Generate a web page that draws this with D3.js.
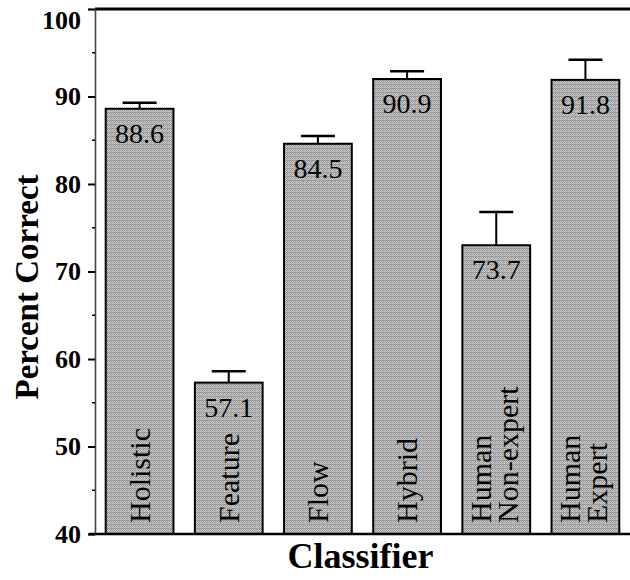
<!DOCTYPE html>
<html>
<head>
<meta charset="utf-8">
<script src="https://cdn.jsdelivr.net/npm/d3@7"></script>
<style>
  body { margin: 0; background: #fff; }
  svg { display: block; }
  .tick-label { font-family: "Liberation Serif", "DejaVu Serif", serif; font-weight: bold; font-size: 26px; }
  .title { font-family: "Liberation Serif", "DejaVu Serif", serif; font-weight: bold; font-size: 33px; }
  .value { font-family: "Liberation Serif", "DejaVu Serif", serif; font-size: 28px; }
  .cat { font-family: "Liberation Serif", "DejaVu Serif", serif; font-size: 30px; }
</style>
</head>
<body>
<div id="chart"></div>
<script>
// bar data
const classifiers = ['Holistic', 'Feature', 'Flow', 'Hybrid', 'Human Non-expert', 'Human Expert'];
const classifierLines = [['Holistic'], ['Feature'], ['Flow'], ['Hybrid'], ['Human', 'Non-expert'], ['Human', 'Expert']];
const barHeights = [88.6, 57.3, 84.6, 92.0, 73.0, 91.9];
const errorTops = [89.3, 58.6, 85.5, 92.9, 76.8, 94.2];
const valueLabels = ['88.6', '57.1', '84.5', '90.9', '73.7', '91.8'];
const yTicks = [40, 50, 60, 70, 80, 90, 100];
const yMinorTicks = [45, 55, 65, 75, 85, 95];

const width = 630, height = 580;
const margin = { top: 9, right: 0, bottom: 46, left: 95 };
const innerW = width - margin.left - margin.right;
const innerH = height - margin.top - margin.bottom;

const svg = d3.select('#chart').append('svg')
  .attr('width', width)
  .attr('height', height);

// halftone-ish fill like the scanned original
const defs = svg.append('defs');
const pat = defs.append('pattern')
  .attr('id', 'halftone')
  .attr('patternUnits', 'userSpaceOnUse')
  .attr('width', 4)
  .attr('height', 4);
pat.append('rect').attr('width', 4).attr('height', 4).attr('fill', '#d0d0d0');
[[0, 0], [2, 0], [1, 1], [3, 1], [0, 2], [2, 2], [1, 3], [3, 3]].forEach(function(p, i) {
  pat.append('rect')
    .attr('x', p[0]).attr('y', p[1])
    .attr('width', 1).attr('height', 1)
    .attr('fill', i % 3 === 0 ? '#858585' : '#a0a0a0');
});
pat.append('rect').attr('x', 0).attr('y', 3).attr('width', 4).attr('height', 1)
  .attr('fill', '#909090').attr('opacity', 0.6);

const g = svg.append('g')
  .attr('transform', 'translate(' + margin.left + ',' + margin.top + ')');

const x = d3.scaleBand()
  .domain(classifiers)
  .range([0, innerW])
  .paddingInner(0.24)
  .paddingOuter(0.12);

const y = d3.scaleLinear()
  .domain([40, 100])
  .range([innerH, 0]);

// top frame line
g.append('line')
  .attr('x1', 0).attr('x2', innerW)
  .attr('y1', y(100)).attr('y2', y(100))
  .attr('stroke', '#000').attr('stroke-width', 3);

// y axis
const yAxis = d3.axisLeft(y)
  .tickValues(yTicks)
  .tickSize(7)
  .tickPadding(7)
  .tickFormat(d3.format('d'));
const yAxisG = g.append('g').call(yAxis);
yAxisG.attr('font-size', null).attr('font-family', null);
yAxisG.select('.domain').attr('stroke', '#444').attr('stroke-width', 1.6);
yAxisG.selectAll('.tick line').attr('stroke', '#000').attr('stroke-width', 2);
yAxisG.selectAll('.tick text')
  .attr('class', 'tick-label')
  .attr('fill', '#000')
  // the top label sits a little low in the original so it clears the edge
  .attr('dy', function(d) { return d === 100 ? '0.75em' : '0.32em'; });

g.append('g').selectAll('line')
  .data(yMinorTicks)
  .enter().append('line')
  .attr('x1', -3).attr('x2', 0)
  .attr('y1', function(d) { return y(d); })
  .attr('y2', function(d) { return y(d); })
  .attr('stroke', '#000').attr('stroke-width', 1.5);

// bars
const bars = g.append('g').attr('class', 'bars');
bars.selectAll('rect')
  .data(classifiers)
  .enter().append('rect')
  .attr('x', function(d) { return x(d); })
  .attr('y', function(d, i) { return y(barHeights[i]); })
  .attr('width', x.bandwidth())
  .attr('height', function(d, i) { return y(40) - y(barHeights[i]); })
  .attr('fill', 'url(#halftone)')
  .attr('stroke', '#000')
  .attr('stroke-width', 2);

// error bars (upper only)
const capW = 34;
const errs = g.append('g').attr('class', 'errors');
errs.selectAll('line.stem')
  .data(classifiers)
  .enter().append('line')
  .attr('class', 'stem')
  .attr('x1', function(d) { return x(d) + x.bandwidth() / 2; })
  .attr('x2', function(d) { return x(d) + x.bandwidth() / 2; })
  .attr('y1', function(d, i) { return y(barHeights[i]); })
  .attr('y2', function(d, i) { return y(errorTops[i]); })
  .attr('stroke', '#000').attr('stroke-width', 2);
errs.selectAll('line.cap')
  .data(classifiers)
  .enter().append('line')
  .attr('class', 'cap')
  .attr('x1', function(d) { return x(d) + x.bandwidth() / 2 - capW / 2; })
  .attr('x2', function(d) { return x(d) + x.bandwidth() / 2 + capW / 2; })
  .attr('y1', function(d, i) { return y(errorTops[i]); })
  .attr('y2', function(d, i) { return y(errorTops[i]); })
  .attr('stroke', '#000').attr('stroke-width', 2.5);

// value labels inside the bar tops
g.append('g').selectAll('text')
  .data(classifiers)
  .enter().append('text')
  .attr('class', 'value')
  .attr('text-anchor', 'middle')
  .attr('x', function(d) { return x(d) + x.bandwidth() / 2; })
  .attr('y', function(d, i) { return y(barHeights[i]) + 34; })
  .text(function(d, i) { return valueLabels[i]; });

// category names, rotated, inside the bar bottoms
const cats = g.append('g').selectAll('g')
  .data(classifiers)
  .enter().append('g')
  .attr('transform', function(d) {
    return 'translate(' + (x(d) + x.bandwidth() / 2) + ',' + (y(40) - 11) + ') rotate(-90)';
  });
cats.each(function(d, i) {
  const lines = classifierLines[i];
  const sel = d3.select(this);
  lines.forEach(function(line, j) {
    const off = lines.length === 1 ? 10 : (j === 0 ? -5 : 22);
    sel.append('text')
      .attr('class', 'cat')
      .attr('x', 0)
      .attr('y', off)
      .text(line);
  });
});

// bottom axis line
g.append('line')
  .attr('x1', -6).attr('x2', innerW)
  .attr('y1', y(40)).attr('y2', y(40))
  .attr('stroke', '#000').attr('stroke-width', 2.5);

// axis titles
svg.append('text')
  .attr('class', 'title')
  .attr('text-anchor', 'middle')
  .style('font-size', '36px')
  .attr('x', margin.left + innerW / 2 - 2)
  .attr('y', 568)
  .text('Classifier');

svg.append('text')
  .attr('class', 'title')
  .attr('text-anchor', 'middle')
  .attr('transform', 'translate(38,' + 287 + ') rotate(-90)')
  .text('Percent Correct');
</script>
</body>
</html>
